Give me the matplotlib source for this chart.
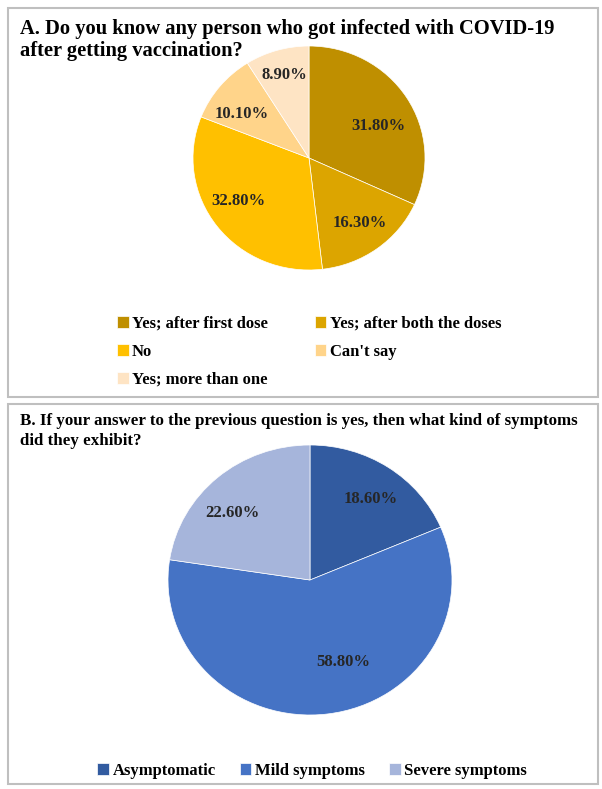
import matplotlib.pyplot as plt
import numpy as np
from matplotlib.patches import Rectangle

# panel A data
a_labels = ['Yes; after first dose', 'Yes; after both the doses', 'No',
            "Can't say", 'Yes; more than one']
a_values = [31.8, 16.3, 32.8, 10.1, 8.9]
a_colors = ['#BF8F00', '#DCA500', '#FFC000', '#FFD48A', '#FEE4C4']
# label placement (radius fraction, angle nudge in degrees)
a_dist = [0.66, 0.73, 0.72, 0.70, 0.77]
a_nudge = [-7, 1, -5, 6, 0]

# panel B data
b_labels = ['Asymptomatic', 'Mild symptoms', 'Severe symptoms']
b_values = [18.6, 58.8, 22.6]
b_colors = ['#325BA0', '#4573C5', '#A6B5DB']
b_dist = [0.74, 0.65, 0.74]
b_nudge = [-2, 14, 7]

plt.rcParams['font.family'] = ['Liberation Serif', 'DejaVu Serif']
plt.rcParams['font.weight'] = 'bold'

W, H = 602, 789
fig = plt.figure(figsize=(W / 100, H / 100), dpi=100)


def px(x, y, w, h):
    # pixel box (top-left origin) -> figure fraction
    return [x / W, 1 - (y + h) / H, w / W, h / H]


# panel borders
for (x, y, w, h) in [(8, 8, 590, 389), (8, 404, 590, 380)]:
    b = px(x, y, w, h)
    fig.patches.append(Rectangle((b[0], b[1]), b[2], b[3], transform=fig.transFigure,
                                 fill=False, edgecolor='#BFBFBF', linewidth=1.5))


def draw_pie(ax, values, colors, dist, nudge, fs):
    wedges, _ = ax.pie(values, colors=colors, startangle=90, counterclock=False,
                       wedgeprops=dict(linewidth=0.5, edgecolor='white'))
    for w, v, d, n in zip(wedges, values, dist, nudge):
        ang = np.deg2rad((w.theta1 + w.theta2) / 2 + n)
        ax.text(d * np.cos(ang), d * np.sin(ang), f'{v:.2f}%', ha='center', va='center',
                fontsize=fs, fontweight='bold', color='#262626')
    ax.set_xlim(-1, 1)
    ax.set_ylim(-1, 1)
    ax.set_aspect('auto')  # source picture is slightly stretched sideways
    return wedges


# panel A
fig.text(20 / W, 1 - 40 / H, 'A. Do you know any person who got infected with COVID-19\nafter getting vaccination?',
         ha='left', va='center', fontsize=14.8, fontweight='bold', linespacing=1.15)
axA = fig.add_axes(px(309 - 116, 158 - 112, 232, 224))
wa = draw_pie(axA, a_values, a_colors, a_dist, a_nudge, 12)
# row-wise order for a 2-column legend
order = [0, 2, 4, 1, 3]
fig.legend([wa[i] for i in order], [a_labels[i] for i in order], loc='upper left',
           bbox_to_anchor=(102 / W, 1 - 301 / H), ncol=2, frameon=False,
           handlelength=0.7, handleheight=0.7, handletextpad=0.2,
           columnspacing=2.8, labelspacing=0.72, prop={'weight': 'bold', 'size': 12})

# panel B
fig.text(20 / W, 1 - 431 / H, 'B. If your answer to the previous question is yes, then what kind of symptoms\ndid they exhibit?',
         ha='left', va='center', fontsize=12.2, fontweight='bold', linespacing=1.35)
axB = fig.add_axes(px(310 - 142, 580 - 135, 284, 270))
wb = draw_pie(axB, b_values, b_colors, b_dist, b_nudge, 12)
fig.legend(wb, b_labels, loc='center', bbox_to_anchor=(312 / W, 1 - 771 / H), ncol=3,
           frameon=False, handlelength=0.7, handleheight=0.7, handletextpad=0.2,
           columnspacing=1.45, prop={'weight': 'bold', 'size': 12})

fig.savefig('out.png', dpi=100)
